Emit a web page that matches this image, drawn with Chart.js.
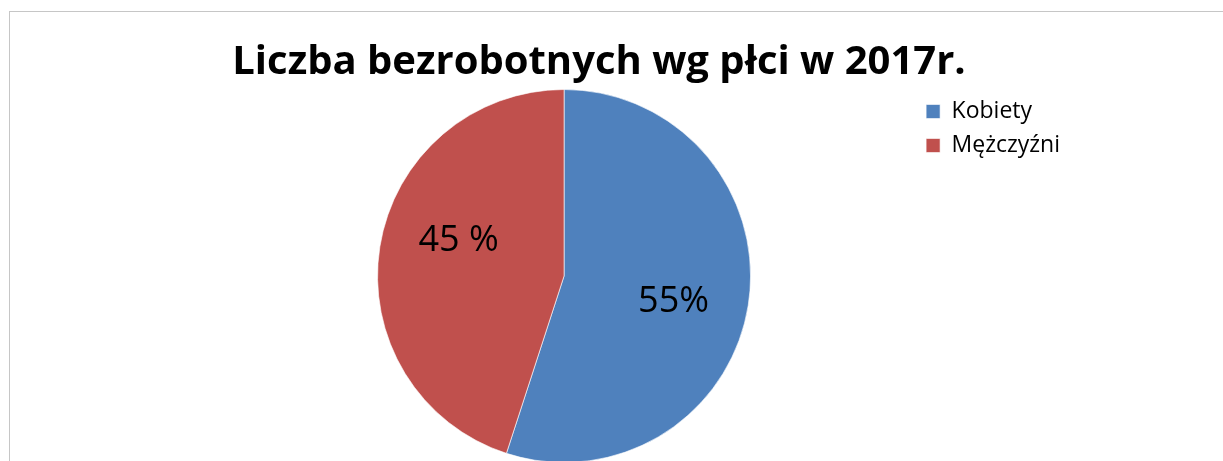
<!DOCTYPE html>
<html>
<head>
<meta charset="utf-8">
<script src="https://cdn.jsdelivr.net/npm/chart.js@4"></script>
<style>
  html, body { margin: 0; padding: 0; background: #ffffff; overflow: hidden; width: 1223px; height: 461px; }
  #frame { position: absolute; left: 9px; top: 11px; width: 1220px; height: 460px; border-left: 1px solid #c6c6c6; border-top: 1px solid #c6c6c6; }
  #wrap { position: absolute; left: 0; top: 0; width: 1223px; height: 470px; }
</style>
</head>
<body>
<div id="frame"></div>
<div id="wrap"><canvas id="c" width="1223" height="470"></canvas></div>
<script>
const titleText = 'Liczba bezrobotnych wg płci w 2017r.';
const categories = ['Kobiety', 'Mężczyźni'];
const values = [55, 45];
const valueLabels = ['55%', '45 %'];
const sliceColors = ['#4F81BD', '#C0504D'];

const labelAngleOffsetDeg = [3, 10.5];
const labelRadiusFactor = 0.6;
const labelFontSize = 36;

const sliceLabelsPlugin = {
  id: 'sliceLabels',
  afterDatasetsDraw(chart) {
    const ctx = chart.ctx;
    const meta = chart.getDatasetMeta(0);
    ctx.save();
    ctx.font = labelFontSize + 'px "Open Sans", sans-serif';
    ctx.fillStyle = '#000000';
    ctx.textAlign = 'center';
    ctx.textBaseline = 'alphabetic';
    meta.data.forEach((arc, i) => {
      const p = arc.getProps(['x', 'y', 'startAngle', 'endAngle', 'outerRadius'], true);
      const mid = (p.startAngle + p.endAngle) / 2 + labelAngleOffsetDeg[i] * Math.PI / 180;
      const r = p.outerRadius * labelRadiusFactor;
      const x = p.x + Math.cos(mid) * r;
      const y = p.y + Math.sin(mid) * r;
      ctx.fillText(valueLabels[i], x, y + 0.357 * labelFontSize);
    });
    ctx.restore();
  }
};

new Chart(document.getElementById('c'), {
  type: 'pie',
  data: {
    labels: categories,
    datasets: [{
      data: values,
      backgroundColor: sliceColors,
      borderColor: 'rgba(255,255,255,0.6)',
      borderWidth: 1
    }]
  },
  options: {
    responsive: false,
    animation: false,
    events: [],
    layout: { padding: { left: 128, right: 153, top: 0, bottom: 7 } },
    plugins: {
      title: {
        display: true,
        text: titleText,
        color: '#000000',
        font: { family: '"Open Sans", sans-serif', size: 40, weight: 'bold', lineHeight: 1.2 },
        padding: { top: 39, bottom: 2 }
      },
      subtitle: {
        display: true,
        position: 'left',
        fullSize: false,
        text: ' ',
        font: { size: 10, lineHeight: 1 },
        padding: { top: 0, bottom: 75 }
      },
      legend: {
        display: true,
        position: 'right',
        align: 'start',
        fullSize: false,
        labels: {
          color: '#000000',
          boxWidth: 14,
          boxHeight: 14,
          padding: 11,
          font: { family: '"Open Sans", sans-serif', size: 23 }
        }
      },
      tooltip: { enabled: false }
    }
  },
  plugins: [sliceLabelsPlugin]
});
</script>
</body>
</html>
